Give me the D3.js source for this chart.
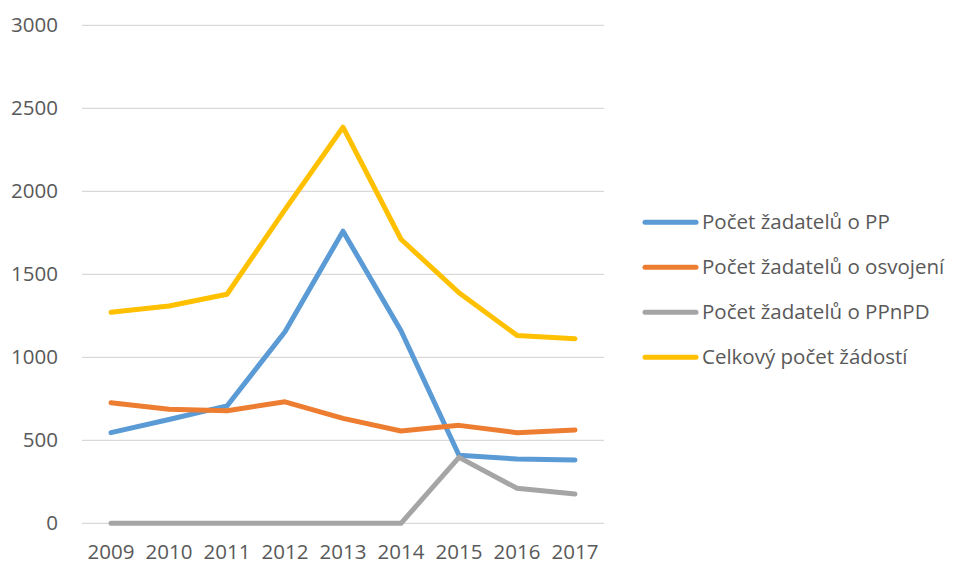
<!DOCTYPE html>
<html>
<head>
<meta charset="utf-8">
<script src="https://d3js.org/d3.v7.min.js"></script>
<style>
  body { margin: 0; background: #fff; }
  text { font-family: "Open Sans", sans-serif; fill: #595959; }
</style>
</head>
<body>
<svg id="chart"></svg>
<script>
// data
var years = ["2009", "2010", "2011", "2012", "2013", "2014", "2015", "2016", "2017"];
var seriesNames = ["Počet žadatelů o PP", "Počet žadatelů o osvojení", "Počet žadatelů o PPnPD", "Celkový počet žádostí"];
var pp = [546, 625, 707, 1154, 1760, 1160, 410, 387, 381];
var osvojeni = [726, 687, 678, 732, 632, 556, 590, 546, 562];
var ppnpd = [0, 0, 0, 0, 0, 0, 397, 211, 176];
var celkem = [1271, 1309, 1380, 1890, 2386, 1711, 1389, 1132, 1112];
var yTicks = [0, 500, 1000, 1500, 2000, 2500, 3000];
var colors = ["#5B9BD5", "#ED7D31", "#A5A5A5", "#FFC000"];

var width = 956, height = 566;
var fontSize = "20.5px";

var svg = d3.select("#chart")
  .attr("width", width)
  .attr("height", height);

var xScale = d3.scaleBand()
  .domain(years)
  .range([82, 604]);

var yScale = d3.scaleLinear()
  .domain([0, 3000])
  .range([523.3, 25.3]);

//gridlines
svg.append("g")
  .selectAll("line")
  .data(yTicks)
  .enter()
  .append("line")
  .attr("x1", 82)
  .attr("x2", 604)
  .attr("y1", d => yScale(d))
  .attr("y2", d => yScale(d))
  .attr("stroke", "#D9D9D9")
  .attr("stroke-width", 1.3);

var yAxis = d3.axisLeft(yScale)
  .tickValues(yTicks)
  .tickFormat(d3.format("d"))
  .tickSize(0)
  .tickPadding(24);

svg.append("g")
  .attr("class", "y-axis")
  .attr("transform", "translate(82,0)")
  .call(yAxis)
  .call(g => g.select(".domain").remove())
  .selectAll("text")
  .style("font-size", fontSize)
  .attr("fill", "#595959");

var xAxis = d3.axisBottom(xScale)
  .tickSize(0)
  .tickPadding(21);

svg.append("g")
  .attr("class", "x-axis")
  .attr("transform", "translate(0,523.3)")
  .call(xAxis)
  .call(g => g.select(".domain").remove())
  .selectAll("text")
  .style("font-size", fontSize)
  .attr("fill", "#595959");

var line = d3.line()
  .x((d, i) => xScale(years[i]) + xScale.bandwidth() / 2)
  .y(d => yScale(d));

var allSeries = [pp, osvojeni, ppnpd, celkem];

svg.append("g")
  .selectAll("path")
  .data(allSeries)
  .enter()
  .append("path")
  .attr("fill", "none")
  .attr("stroke", (d, i) => colors[i])
  .attr("stroke-width", 5)
  .attr("stroke-linecap", "round")
  .attr("stroke-linejoin", "round")
  .attr("d", line);

///////////////////////LEGEND
var legend = svg.append("g")
  .selectAll("g")
  .data(seriesNames)
  .enter()
  .append("g")
  .attr("transform", (d, i) => "translate(0," + (222.3 + i * 45) + ")");

legend.append("line")
  .attr("x1", 645)
  .attr("x2", 696)
  .attr("stroke", (d, i) => colors[i])
  .attr("stroke-width", 5)
  .attr("stroke-linecap", "round");

legend.append("text")
  .attr("x", 702)
  .attr("dy", "0.35em")
  .style("font-size", fontSize)
  .text(d => d);
</script>
</body>
</html>
